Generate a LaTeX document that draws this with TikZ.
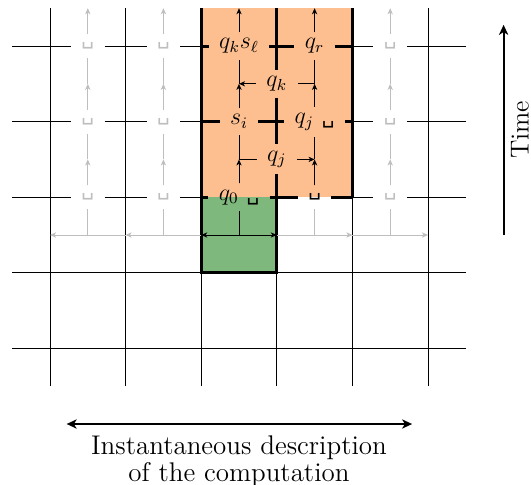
\documentclass[tikz,border=0pt]{standalone}
\usepackage{fontspec}
\usepackage{tikz}
\usetikzlibrary{arrows.meta}
\newfontfamily\dvfont{DejaVu Sans}
\newcommand{\blank}{{\dvfont\fontsize{10}{12}\selectfont ␣}}
\definecolor{peach}{RGB}{253,191,143}
\definecolor{leaf}{RGB}{127,184,125}
\definecolor{ghost}{RGB}{190,190,190}
\begin{document}
\begin{tikzpicture}[x=37.8pt,y=-37.8pt,
  >={Stealth[length=3pt,width=2.6pt,inset=0.8pt]},
  every node/.style={font=\fontsize{12}{14}\selectfont},
  lab/.style={inner xsep=5pt,inner ysep=3pt,minimum height=11.5pt,minimum width=16pt},
  gridline/.style={line width=0.45pt},
  heavy/.style={line width=1.5pt},
  arr/.style={line width=0.5pt,->},
  link/.style={line width=0.5pt},
  faint/.style={draw=ghost},
  bigarrow/.style={line width=0.9pt,>={Stealth[length=5pt,width=4.6pt,inset=1.4pt]}},
]
\useasboundingbox (-0.6614,-0.6085) rectangle (6.3624,5.7937);
% fills
\fill[peach] (2,-0.5) rectangle (4,2);
\fill[leaf] (2,2) rectangle (3,3);

% cell labels
\foreach \c in {0,1,4}{
  \foreach \r in {0,1,2}{
    \node[lab,text=ghost] (l-\c-\r) at (\c+0.5,\r) {\blank};
  }
}
\node[lab] (l-2-0) at (2.5,0) {$q_k s_\ell$};
\node[lab] (l-3-0) at (3.5,0) {$q_r$};
\node[lab] (l-2-1) at (2.5,1) {$s_i$};
\node[lab] (l-3-1) at (3.5,1) {$q_j$~\blank};
\node[lab] (l-2-2) at (2.5,2) {$q_0$~\blank};
\node[lab] (l-3-2) at (3.5,2) {\blank};
% head moves
\node[lab] (v-0) at (3,0.5) {$q_k$};
\node[lab] (v-1) at (3,1.5) {$q_j$};

% junctions
\foreach \c in {0,...,4}{
  \coordinate (t-\c) at (\c+0.5,-0.5);
  \foreach \r in {0,1,2}{ \coordinate (j-\c-\r) at (\c+0.5,\r+0.5); }
}
\foreach \i in {0,...,5}{ \coordinate (b-\i) at (\i,2.5); }

% thin grid
\foreach \x in {0,1,2,4,5}{ \draw[gridline] (\x,-0.5) -- (\x,4.5); }
\draw[gridline] (3,3) -- (3,4.5);
\foreach \y in {3,4}{ \draw[gridline] (-0.5,\y) -- (5.5,\y); }
\foreach \r in {0,1,2}{
  \draw[gridline] (-0.5,\r) -- (l-0-\r) -- (l-1-\r) -- (l-2-\r) -- (l-3-\r) -- (l-4-\r) -- (5.5,\r);
}

% thick borders
\draw[heavy] (3,-0.5) -- (v-0) -- (v-1) -- (3,3) -- (2,3) -- (2,-0.5);
\draw[heavy] (4,-0.5) -- (4,2);
\foreach \r in {0,1,2}{
  \draw[heavy] (2,\r) -- (l-2-\r) -- (l-3-\r) -- (4,\r);
}

% vertical flows
\foreach \c/\col in {0/ghost,1/ghost,2/black,3/black,4/ghost}{
  \draw[arr,draw=\col,fill=\col] (l-\c-0) -- (t-\c);
  \draw[arr,draw=\col,fill=\col] (l-\c-1) -- (j-\c-0);
  \draw[link,draw=\col] (j-\c-0) -- (l-\c-0);
  \draw[arr,draw=\col,fill=\col] (l-\c-2) -- (j-\c-1);
  \draw[link,draw=\col] (j-\c-1) -- (l-\c-1);
}
\foreach \c/\col in {0/ghost,1/ghost,2/black,3/ghost,4/ghost}{
  \draw[link,draw=\col] (j-\c-2) -- (l-\c-2);
}

% head moves
\draw[link] (j-3-0) -- (v-0);
\draw[arr] (v-0) -- (j-2-0);
\draw[link] (j-2-1) -- (v-1);
\draw[arr] (v-1) -- (j-3-1);

% bottom row
\draw[arr,faint,fill=ghost] (b-1) -- (b-0);
\draw[arr,faint,fill=ghost] (b-2) -- (b-1);
\draw[link,<->] (b-2) -- (b-3);
\draw[arr,faint,fill=ghost] (b-3) -- (b-4);
\draw[arr,faint,fill=ghost] (b-4) -- (b-5);

% time
\coordinate (tb) at (6,2.5);
\coordinate (tt) at (6,-0.28);
\draw[bigarrow,->] (tb) -- (tt);
\node[rotate=90,font=\fontsize{13}{15}\selectfont] (time) at (6.215,1.111) {Time};

% description
\coordinate (ia) at (0.22,5);
\coordinate (ib) at (4.79,5);
\draw[bigarrow,<->] (ia) -- (ib);
\node[anchor=north,inner sep=0pt,align=center,font=\fontsize{13.5}{10.5}\selectfont] (desc) at (2.5,5.155) {Instantaneous description\\of the computation};
\end{tikzpicture}
\end{document}
